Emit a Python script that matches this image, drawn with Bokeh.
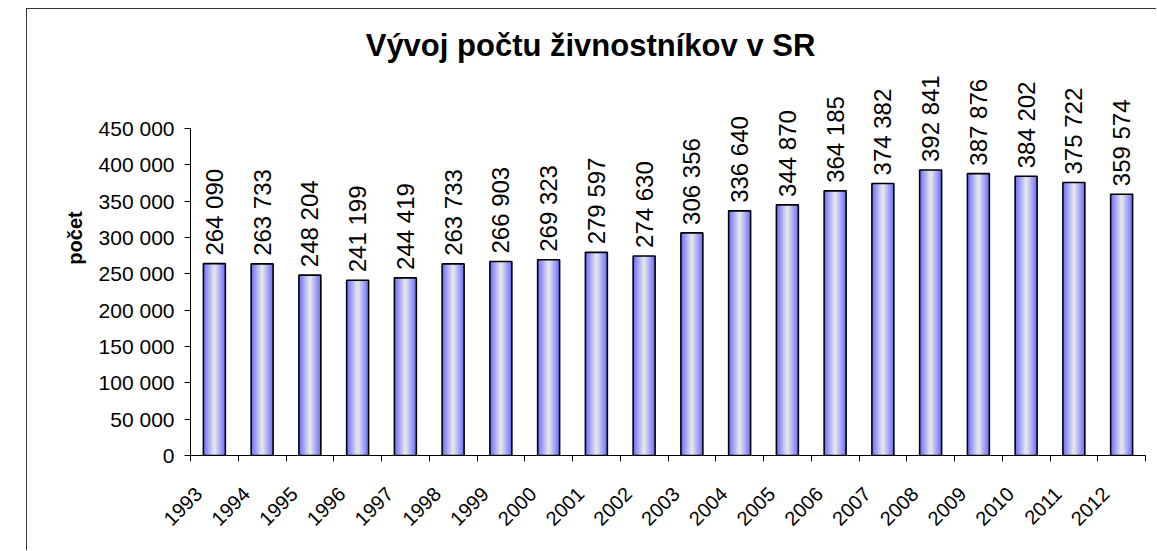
import math
from bokeh.plotting import figure
from bokeh.models import Range1d, FixedTicker, Label, ColumnDataSource, Title
from bokeh.core.properties import value
from bokeh.embed import file_html
from bokeh.resources import INLINE

# ---- data ----
years = ["1993", "1994", "1995", "1996", "1997", "1998", "1999", "2000", "2001", "2002",
         "2003", "2004", "2005", "2006", "2007", "2008", "2009", "2010", "2011", "2012"]
counts = [264090, 263733, 248204, 241199, 244419, 263733, 266903, 269323, 279597, 274630,
          306356, 336640, 344870, 364185, 374382, 392841, 387876, 384202, 375722, 359574]
y_ticks = [0, 50000, 100000, 150000, 200000, 250000, 300000, 350000, 400000, 450000]
title_text = "Vývoj počtu živnostníkov v SR"
y_label = "počet"


def fmt(v):
    return f"{v:,}".replace(",", " ")


FONT = "Liberation Sans"

# layout (pixels inside the figure canvas, canvas origin at page (27, 9))
W, H = 1130, 542
left_b, right_b, top_b, bottom_b = 163, 12, 11, 96
frame_h = H - top_b - bottom_b
axis_h = 327  # pixel height of 0..450000
y_end = 450000 * frame_h / axis_h

n = len(years)
xc = [i + 0.5 for i in range(n)]

p = figure(width=W, height=H, output_backend="svg", toolbar_location=None,
           x_range=Range1d(0, n), y_range=Range1d(0, y_end),
           min_border_left=left_b, min_border_right=right_b,
           min_border_top=top_b, min_border_bottom=bottom_b,
           margin=(8, 0, 0, 26),
           styles={"border-left": "1px solid #333", "border-top": "1px solid #333"})
p.outline_line_color = None
p.xgrid.visible = False
p.ygrid.visible = False
p.background_fill_color = "white"

src = ColumnDataSource(dict(x=xc, top=counts, lab=[fmt(v) for v in counts]))

# gradient bars (nested layers)
BW = 0.46
N = 12
edge = (112, 112, 255)
center = (230, 230, 234)
for k in range(N):
    t = k / (N - 1)
    c = tuple(int(round(edge[j] + (center[j] - edge[j]) * t)) for j in range(3))
    col = "#%02x%02x%02x" % c
    p.vbar(x="x", top="top", bottom=0, width=BW * (1 - k / N), source=src,
           fill_color=col, line_color=None)
p.vbar(x="x", top="top", bottom=0, width=BW, source=src,
       fill_color=None, line_color="black", line_width=1.6)

# value labels
p.text(x="x", y="top", text="lab", source=src, angle=math.pi / 2,
       text_align="left", text_baseline="middle", y_offset=-8,
       text_font=value(FONT), text_font_size="24px", text_color="black")

# y axis
yax = p.yaxis[0]
yax.ticker = FixedTicker(ticks=y_ticks, minor_ticks=[])
yax.bounds = (0, 450000)
yax.major_label_overrides = {t: fmt(t) for t in y_ticks}
yax.major_tick_out = 6
yax.major_tick_in = 0
yax.minor_tick_line_color = None
yax.axis_line_color = "black"
yax.major_tick_line_color = "black"
yax.major_label_text_font = FONT
yax.major_label_text_font_size = "21px"
yax.major_label_text_color = "black"
yax.major_label_standoff = 10

# y-axis title on the left
p.add_layout(Title(text=y_label, align="center", text_font=FONT, text_font_size="20px",
                   text_font_style="bold", text_color="black", standoff=20), "left")

# x axis: labels near centers, tick marks between categories
xax = p.xaxis[0]
lab_pos = [i + 0.17 for i in range(n)]
xax.ticker = FixedTicker(ticks=lab_pos, minor_ticks=list(range(n + 1)))
xax.major_label_overrides = {lab_pos[i]: years[i] for i in range(n)}
xax.major_tick_out = 0
xax.major_tick_in = 0
xax.minor_tick_out = 6
xax.minor_tick_in = 0
xax.minor_tick_line_color = "black"
xax.axis_line_color = "black"
xax.major_label_orientation = math.pi / 4
xax.major_label_text_font = FONT
xax.major_label_text_font_size = "20px"
xax.major_label_text_color = "black"
xax.major_label_standoff = 29

# chart title (screen units relative to the plot frame: y up from frame bottom)
p.add_layout(Label(x=400, y=410, x_units="screen", y_units="screen",
                   text=title_text, text_align="center", text_baseline="middle",
                   text_font=FONT, text_font_size="31px", text_font_style="bold",
                   text_color="black"))

open("out.html", "w").write(file_html(p, INLINE))
